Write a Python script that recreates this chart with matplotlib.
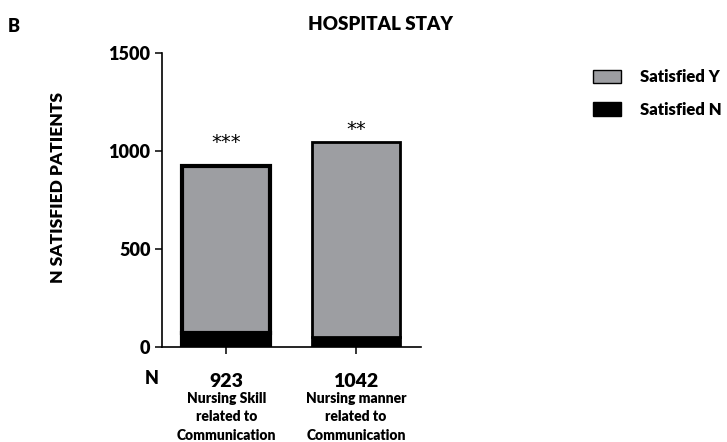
import matplotlib
matplotlib.use("Agg")
import matplotlib.pyplot as plt
from matplotlib.patches import Patch

plt.rcParams['font.family'] = ['Lato', 'DejaVu Sans']
W = "heavy"

categories = ["Nursing Skill\nrelated to\nCommunication",
              "Nursing manner\nrelated to\nCommunication"]
n_total = [923, 1042]
satisfied_n = [68, 52]
satisfied_y = [t - n for t, n in zip(n_total, satisfied_n)]
stars = ["***", "**"]
star_y = [1070, 1140]
yticks = [0, 500, 1000, 1500]

GRAY = "#9d9ea2"

fig = plt.figure(figsize=(7.27, 4.42), dpi=100)
ax = fig.add_axes([0.2224, 0.2156, 0.3563, 0.6652])

x = list(range(len(categories)))
edge_w = [3.0, 2.0]
ax.bar(x, satisfied_n, width=0.68, color="black", edgecolor="black",
       linewidth=edge_w, zorder=2)
ax.bar(x, satisfied_y, bottom=satisfied_n, width=0.68, color=GRAY,
       edgecolor="black", linewidth=edge_w, zorder=2)

# asterisks sit near cap height, so pull the baseline down a little
for i, (sy, s) in enumerate(zip(star_y, stars)):
    ax.annotate(s, xy=(i, sy), xytext=(0, -8.3), textcoords="offset points",
                ha="center", va="baseline", fontsize=14,
                family="DejaVu Sans")

ax.set_xlim(-0.5, 1.5)
ax.set_ylim(0, 1500)
ax.set_yticks(yticks)
ax.set_yticklabels([str(v) for v in yticks], fontsize=13, fontweight=W)
ax.set_xticks(x)
ax.set_xticklabels([])
ax.tick_params(axis="both", direction="out", length=5, width=1.1, pad=3)
for side in ("top", "right"):
    ax.spines[side].set_visible(False)
for side in ("left", "bottom"):
    ax.spines[side].set_linewidth(1.2)

ax.set_ylabel("N SATISFIED PATIENTS", fontsize=12.5, fontweight=W)
ax.yaxis.set_label_coords((66 - 161.7) / 259, (346.7 - 188) / 294)

# N row and category names under the axis
fig.text(152 / 727, 1 - 379 / 442, "N", ha="center", va="center",
         fontsize=13, fontweight=W)
for i, (t, c) in enumerate(zip(n_total, categories)):
    ax.annotate(str(t), xy=(i, 0), xycoords=("data", "axes fraction"),
                xytext=(0, -25), textcoords="offset points", ha="center",
                va="center", fontsize=14, fontweight=W)
    ax.annotate(c, xy=(i, 0), xycoords=("data", "axes fraction"),
                xytext=(0, -32.5), textcoords="offset points", ha="center",
                va="top", fontsize=10, fontweight=W, linespacing=1.5)

fig.text(380 / 727, 1 - 24 / 442, "HOSPITAL STAY", ha="center",
         va="center", fontsize=13.5, fontweight=W)
fig.text(14 / 727, 1 - 26 / 442, "B", ha="center", va="center",
         fontsize=13, fontweight=W)

handles = [Patch(facecolor=GRAY, edgecolor="black", linewidth=1.0),
           Patch(facecolor="black", edgecolor="black", linewidth=1.0)]
fig.legend(handles, ["Satisfied Y", "Satisfied N"], loc="upper left",
           bbox_to_anchor=(578 / 727, 1 - 54 / 442), frameon=False,
           prop={"size": 12, "weight": W}, handlelength=1.65,
           handleheight=0.85, labelspacing=1.0, handletextpad=1.15)

fig.savefig("out.png", dpi=100)
